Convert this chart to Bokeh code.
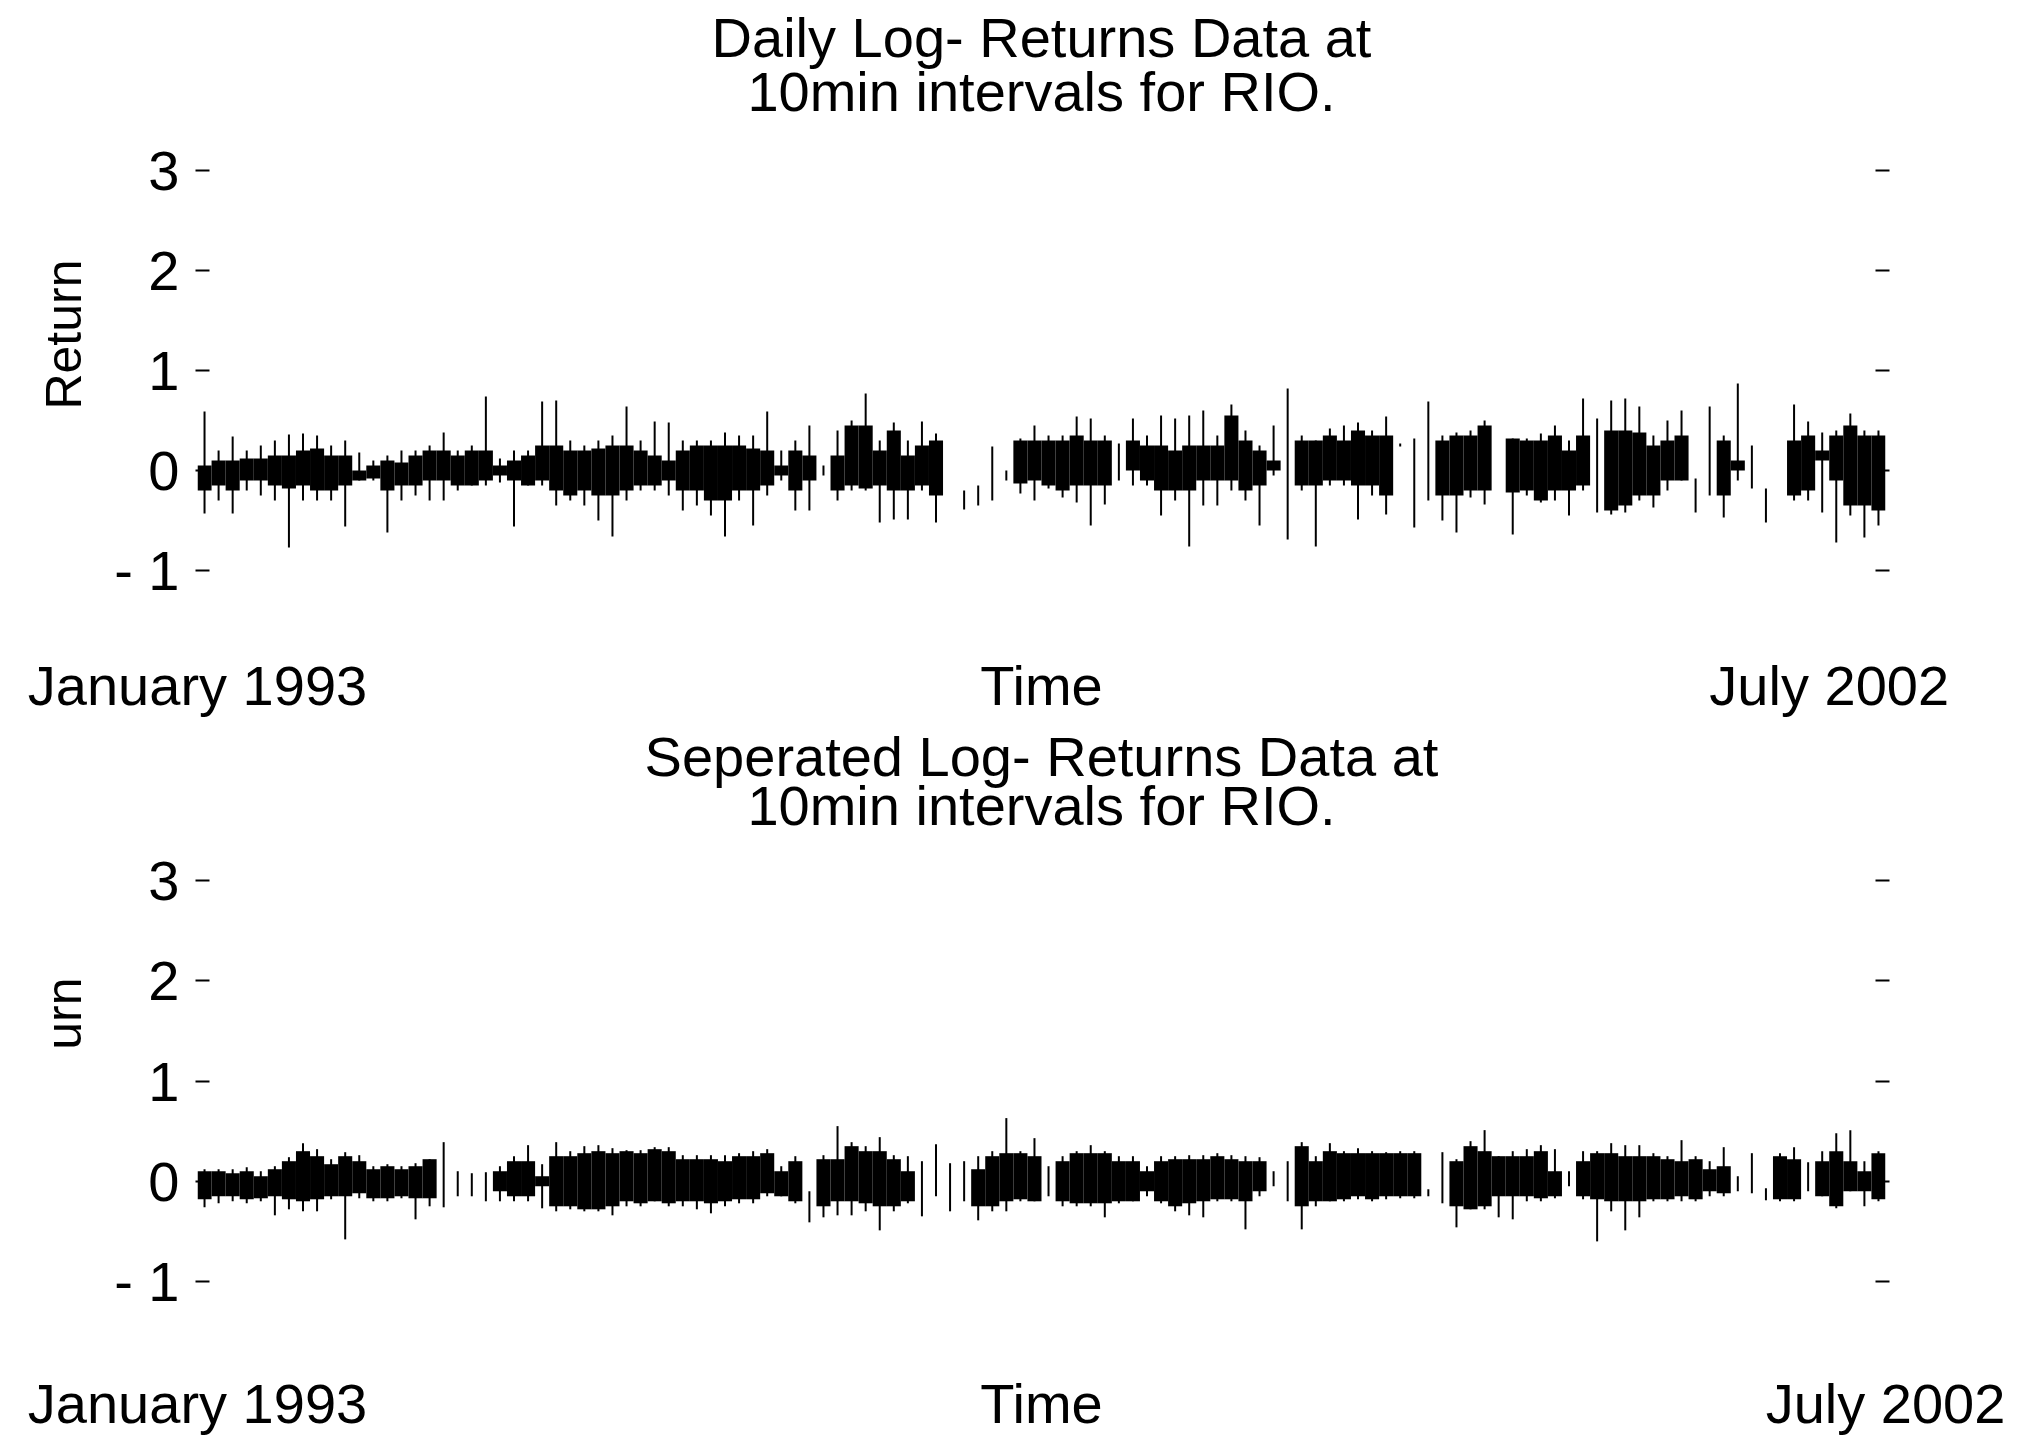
from bokeh.plotting import figure
from bokeh.layouts import column
from bokeh.models import Range1d, FixedTicker, LinearAxis, Title, ColumnDataSource
from bokeh.embed import file_html
from bokeh.resources import INLINE

# ---------------- data (per time bin) ----------------
TOP_TITLE = ["Daily Log- Returns Data at", "10min intervals for RIO."]
BOT_TITLE = ["Seperated Log- Returns Data at", "10min intervals for RIO."]
TOP_YLABEL = "Return"
BOT_YLABEL = "urn"
Y_TICKS = [-1, 0, 1, 2, 3]
Y_TICK_LABELS = {-1: "- 1"}
TOP_X_TICKS = [0, 60, 116]
BOT_X_TICKS = [0, 60, 120]
X_TICK_LABELS = ["January 1993", "Time", "July 2002"]

TOP_BODY_HI = [0.05, 0.10, 0.10, 0.12, 0.12, 0.15, 0.15, 0.20, 0.22, 0.15,
               0.15, 0.00, 0.05, 0.10, 0.08, 0.15, 0.20, 0.20, 0.15, 0.20,
               0.20, 0.05, 0.10, 0.15, 0.25, 0.25, 0.20, 0.20, 0.22, 0.25,
               0.25, 0.20, 0.15, 0.10, 0.20, 0.25, 0.25, 0.25, 0.25, 0.22,
               0.20, 0.05, 0.20, 0.15, 0.00, 0.15, 0.45, 0.45, 0.20, 0.40,
               0.15, 0.25, 0.30, 0.00, 0.00, 0.00, 0.00, 0.00, 0.30, 0.30,
               0.30, 0.30, 0.35, 0.30, 0.30, 0.00, 0.30, 0.25, 0.25, 0.20,
               0.25, 0.25, 0.25, 0.55, 0.30, 0.20, 0.10, 0.00, 0.30, 0.30,
               0.35, 0.30, 0.40, 0.35, 0.35, 0.00, 0.00, 0.00, 0.30, 0.35,
               0.35, 0.45, 0.00, 0.32, 0.30, 0.30, 0.35, 0.20, 0.35, 0.00,
               0.40, 0.40, 0.38, 0.25, 0.30, 0.35, 0.00, 0.00, 0.30, 0.10,
               0.00, 0.00, 0.00, 0.30, 0.35, 0.20, 0.35, 0.45, 0.35, 0.35]
TOP_BODY_LO = [-0.20, -0.15, -0.20, -0.10, -0.10, -0.15, -0.18, -0.15, -0.20, -0.20,
               -0.15, -0.10, -0.08, -0.20, -0.15, -0.15, -0.10, -0.10, -0.15, -0.15,
               -0.10, -0.05, -0.10, -0.15, -0.10, -0.20, -0.25, -0.20, -0.25, -0.25,
               -0.20, -0.15, -0.15, -0.10, -0.20, -0.20, -0.30, -0.30, -0.20, -0.20,
               -0.15, -0.05, -0.20, -0.10, 0.00, -0.20, -0.15, -0.18, -0.15, -0.20,
               -0.20, -0.15, -0.25, 0.00, 0.00, 0.00, 0.00, 0.00, -0.13, -0.10,
               -0.15, -0.20, -0.15, -0.15, -0.15, 0.00, 0.00, -0.10, -0.20, -0.20,
               -0.20, -0.10, -0.10, -0.10, -0.20, -0.15, 0.00, 0.00, -0.15, -0.15,
               -0.10, -0.10, -0.15, -0.15, -0.25, 0.00, 0.00, 0.00, -0.25, -0.25,
               -0.20, -0.20, 0.00, -0.22, -0.20, -0.30, -0.20, -0.20, -0.15, 0.00,
               -0.40, -0.35, -0.25, -0.25, -0.10, -0.10, 0.00, 0.00, -0.25, 0.00,
               0.00, 0.00, 0.00, -0.25, -0.20, 0.10, -0.10, -0.35, -0.35, -0.40]
TOP_SPIKE_HI = [0.59, 0.20, 0.34, 0.20, 0.25, 0.30, 0.36, 0.37, 0.35, 0.25,
                0.30, 0.18, 0.10, 0.15, 0.20, 0.20, 0.25, 0.38, 0.20, 0.25,
                0.74, 0.12, 0.20, 0.20, 0.69, 0.70, 0.30, 0.25, 0.30, 0.35,
                0.64, 0.30, 0.49, 0.48, 0.30, 0.30, 0.30, 0.38, 0.35, 0.35,
                0.59, 0.20, 0.30, 0.45, 0.05, 0.40, 0.50, 0.77, 0.30, 0.48,
                0.30, 0.49, 0.37, 0.00, -0.20, -0.15, 0.24, 0.00, 0.32, 0.45,
                0.35, 0.35, 0.54, 0.52, 0.35, 0.27, 0.52, 0.35, 0.55, 0.52,
                0.55, 0.60, 0.35, 0.66, 0.40, 0.25, 0.45, 0.82, 0.35, 0.30,
                0.42, 0.45, 0.48, 0.40, 0.54, 0.27, 0.32, 0.69, 0.35, 0.38,
                0.40, 0.50, 0.00, 0.32, 0.32, 0.37, 0.45, 0.30, 0.72, 0.52,
                0.70, 0.72, 0.64, 0.35, 0.50, 0.60, -0.08, 0.64, 0.35, 0.87,
                0.25, -0.18, 0.00, 0.66, 0.49, 0.38, 0.40, 0.57, 0.40, 0.40]
TOP_SPIKE_LO = [-0.43, -0.30, -0.43, -0.20, -0.25, -0.30, -0.77, -0.30, -0.30, -0.30,
                -0.56, -0.10, -0.10, -0.62, -0.30, -0.25, -0.30, -0.30, -0.20, -0.15,
                -0.15, -0.12, -0.56, -0.15, -0.15, -0.35, -0.30, -0.35, -0.50, -0.66,
                -0.30, -0.20, -0.20, -0.25, -0.40, -0.35, -0.45, -0.66, -0.30, -0.55,
                -0.25, -0.10, -0.40, -0.40, -0.05, -0.30, -0.20, -0.20, -0.52, -0.49,
                -0.49, -0.20, -0.52, 0.00, -0.39, -0.35, -0.30, -0.10, -0.23, -0.30,
                -0.18, -0.27, -0.32, -0.55, -0.34, -0.10, -0.15, -0.15, -0.45, -0.30,
                -0.76, -0.35, -0.35, -0.20, -0.30, -0.55, -0.05, -0.69, -0.20, -0.76,
                -0.15, -0.15, -0.49, -0.25, -0.44, 0.24, -0.57, -0.30, -0.50, -0.62,
                -0.27, -0.34, 0.00, -0.64, -0.25, -0.32, -0.30, -0.45, -0.20, -0.42,
                -0.44, -0.42, -0.30, -0.37, -0.20, -0.10, -0.42, -0.25, -0.47, -0.10,
                -0.18, -0.52, 0.00, -0.30, -0.30, -0.42, -0.72, -0.45, -0.67, -0.55]

BOT_BODY_HI = [0.10, 0.10, 0.08, 0.10, 0.05, 0.12, 0.20, 0.30, 0.25, 0.17,
               0.25, 0.20, 0.12, 0.15, 0.12, 0.15, 0.22, 0.00, 0.00, 0.00,
               0.00, 0.10, 0.20, 0.20, 0.05, 0.25, 0.25, 0.28, 0.30, 0.28,
               0.30, 0.28, 0.32, 0.30, 0.22, 0.22, 0.22, 0.20, 0.25, 0.25,
               0.28, 0.10, 0.20, 0.00, 0.22, 0.22, 0.35, 0.30, 0.30, 0.22,
               0.10, 0.00, 0.00, 0.00, 0.00, 0.12, 0.25, 0.28, 0.28, 0.25,
               0.00, 0.20, 0.28, 0.28, 0.28, 0.20, 0.20, 0.10, 0.20, 0.22,
               0.22, 0.22, 0.25, 0.22, 0.20, 0.20, 0.00, 0.00, 0.35, 0.20,
               0.30, 0.28, 0.28, 0.28, 0.28, 0.28, 0.28, 0.00, 0.00, 0.20,
               0.35, 0.30, 0.25, 0.25, 0.25, 0.30, 0.10, 0.00, 0.20, 0.28,
               0.28, 0.25, 0.25, 0.25, 0.22, 0.20, 0.22, 0.12, 0.15, 0.00,
               0.00, 0.00, 0.25, 0.22, 0.00, 0.20, 0.30, 0.20, 0.10, 0.28]
BOT_BODY_LO = [-0.18, -0.15, -0.15, -0.18, -0.17, -0.15, -0.18, -0.20, -0.18, -0.15,
               -0.15, -0.12, -0.17, -0.17, -0.15, -0.17, -0.17, 0.00, 0.00, 0.00,
               0.00, -0.10, -0.15, -0.15, -0.05, -0.25, -0.25, -0.28, -0.28, -0.25,
               -0.20, -0.22, -0.20, -0.22, -0.20, -0.20, -0.22, -0.20, -0.18, -0.18,
               -0.12, -0.15, -0.20, 0.00, -0.25, -0.20, -0.20, -0.22, -0.25, -0.25,
               -0.20, 0.00, 0.00, 0.00, 0.00, -0.25, -0.25, -0.20, -0.18, -0.20,
               0.00, -0.20, -0.22, -0.22, -0.22, -0.20, -0.20, -0.10, -0.20, -0.25,
               -0.22, -0.20, -0.18, -0.18, -0.20, -0.10, 0.00, 0.00, -0.25, -0.20,
               -0.20, -0.18, -0.15, -0.18, -0.15, -0.15, -0.15, 0.00, 0.00, -0.25,
               -0.28, -0.25, -0.15, -0.15, -0.15, -0.17, -0.15, 0.00, -0.15, -0.18,
               -0.20, -0.20, -0.20, -0.18, -0.18, -0.15, -0.18, -0.10, -0.12, 0.00,
               0.00, 0.00, -0.18, -0.18, 0.00, -0.15, -0.25, -0.10, -0.10, -0.18]
BOT_SPIKE_HI = [0.12, 0.12, 0.12, 0.14, 0.10, 0.15, 0.24, 0.38, 0.32, 0.22,
                0.29, 0.26, 0.15, 0.17, 0.15, 0.18, 0.22, 0.39, 0.10, 0.08,
                0.09, 0.15, 0.25, 0.36, 0.17, 0.39, 0.30, 0.35, 0.36, 0.33,
                0.31, 0.31, 0.34, 0.34, 0.26, 0.26, 0.26, 0.26, 0.28, 0.30,
                0.32, 0.15, 0.25, -0.10, 0.26, 0.55, 0.39, 0.35, 0.44, 0.26,
                0.25, 0.20, 0.37, 0.18, 0.20, 0.25, 0.30, 0.63, 0.30, 0.43,
                0.15, 0.25, 0.30, 0.36, 0.30, 0.25, 0.25, 0.15, 0.25, 0.25,
                0.26, 0.26, 0.28, 0.26, 0.25, 0.24, 0.10, 0.20, 0.39, 0.25,
                0.38, 0.30, 0.33, 0.30, 0.29, 0.30, 0.30, -0.08, 0.29, 0.22,
                0.40, 0.51, 0.25, 0.30, 0.32, 0.36, 0.32, 0.10, 0.30, 0.30,
                0.38, 0.36, 0.36, 0.28, 0.25, 0.41, 0.25, 0.20, 0.34, 0.05,
                0.28, -0.07, 0.28, 0.34, 0.19, 0.30, 0.48, 0.51, 0.20, 0.30]
BOT_SPIKE_LO = [-0.26, -0.22, -0.20, -0.22, -0.20, -0.34, -0.28, -0.30, -0.30, -0.18,
                -0.58, -0.17, -0.20, -0.20, -0.17, -0.38, -0.25, -0.26, -0.15, -0.15,
                -0.20, -0.20, -0.20, -0.20, -0.27, -0.30, -0.28, -0.30, -0.30, -0.34,
                -0.25, -0.25, -0.20, -0.25, -0.25, -0.28, -0.32, -0.25, -0.22, -0.22,
                -0.15, -0.15, -0.22, -0.41, -0.36, -0.34, -0.34, -0.30, -0.49, -0.30,
                -0.22, -0.35, -0.15, -0.30, -0.20, -0.39, -0.30, -0.30, -0.20, -0.20,
                -0.15, -0.25, -0.25, -0.25, -0.36, -0.22, -0.20, -0.15, -0.22, -0.30,
                -0.34, -0.36, -0.20, -0.20, -0.48, -0.15, -0.05, -0.20, -0.48, -0.25,
                -0.20, -0.20, -0.18, -0.20, -0.18, -0.17, -0.17, -0.15, -0.22, -0.46,
                -0.28, -0.28, -0.36, -0.38, -0.20, -0.20, -0.17, -0.05, -0.18, -0.60,
                -0.30, -0.49, -0.36, -0.20, -0.20, -0.20, -0.20, -0.15, -0.15, -0.10,
                -0.12, -0.19, -0.20, -0.20, -0.10, -0.15, -0.27, -0.10, -0.25, -0.20]

FONT = "Liberation Sans"
FS = "56px"


def make_panel(title_lines, ylabel, bhi, blo, shi, slo, xticks, height, y_top, y_bot,
               border_top, border_bottom, border_right, title_standoffs,
               ylab_offset, label_standoff):
    n = len(bhi)
    src = ColumnDataSource(dict(x=[i + 0.5 for i in range(n)],
                                bhi=bhi, blo=blo, shi=shi, slo=slo))
    p = figure(width=2024, height=height, output_backend="svg", toolbar_location=None,
               title=None,
               x_range=Range1d(0, n), y_range=Range1d(y_bot, y_top),
               min_border_left=197, min_border_right=border_right,
               min_border_top=border_top, min_border_bottom=border_bottom,
               outline_line_color=None)
    p.grid.visible = False
    p.background_fill_color = "white"
    p.border_fill_color = "white"

    # two title lines, each centred (line 2 added first = nearest the frame)
    for line, so in ((title_lines[1], title_standoffs[1]), (title_lines[0], title_standoffs[0])):
        p.add_layout(Title(text=line, align="center", text_font=FONT, text_font_size=FS,
                           text_font_style="normal", text_color="black", standoff=so),
                     "above")

    # y axis (left)
    ya = p.yaxis[0]
    ya.ticker = FixedTicker(ticks=Y_TICKS)
    ya.major_label_overrides = Y_TICK_LABELS
    ya.axis_line_color = None
    ya.minor_tick_line_color = None
    ya.major_tick_in = 12
    ya.major_tick_out = 2
    ya.major_tick_line_width = 2
    ya.major_label_standoff = 16
    ya.major_label_text_font = FONT
    ya.major_label_text_font_size = FS
    ya.major_label_text_color = "black"

    p.add_layout(Title(text=ylabel, align="right", text_font=FONT, text_font_size="50px",
                       text_font_style="normal", text_color="black",
                       standoff=40, offset=ylab_offset), "left")

    # y ticks on the right (tick marks only, labels not drawn)
    ra = LinearAxis(ticker=FixedTicker(ticks=Y_TICKS), axis_line_color=None,
                    major_tick_in=10, major_tick_out=4, major_tick_line_width=2,
                    minor_tick_line_color=None, major_label_text_color=None,
                    major_label_text_font_size="20px")
    p.add_layout(ra, "right")

    # x axis: date labels and "Time"
    xa = p.xaxis[0]
    xa.ticker = FixedTicker(ticks=xticks)
    xa.major_label_overrides = {t: lab for t, lab in zip(xticks, X_TICK_LABELS)}
    xa.axis_line_color = None
    xa.minor_tick_line_color = None
    xa.major_tick_in = 0
    xa.major_tick_out = 0
    xa.major_label_standoff = label_standoff
    xa.major_label_text_font = FONT
    xa.major_label_text_font_size = FS
    xa.major_label_text_color = "black"

    p.vbar(x="x", width=1.0, top="bhi", bottom="blo", source=src,
           fill_color="black", line_color=None)
    p.segment(x0="x", y0="slo", x1="x", y1="shi", source=src,
              line_color="black", line_width=2)
    return p


p1 = make_panel(TOP_TITLE, TOP_YLABEL, TOP_BODY_HI, TOP_BODY_LO, TOP_SPIKE_HI, TOP_SPIKE_LO,
                TOP_X_TICKS, 719, 3.50, -1.13, 120, 134, 139, (-16, -5), 139, 70)
p2 = make_panel(BOT_TITLE, BOT_YLABEL, BOT_BODY_HI, BOT_BODY_LO, BOT_SPIKE_HI, BOT_SPIKE_LO,
                BOT_X_TICKS, 718, 3.33, -1.13, 128, 142, 135, (-54, 22), 130, 77)

layout = column(p1, p2, spacing=0)
open("out.html", "w").write(file_html(layout, INLINE))
